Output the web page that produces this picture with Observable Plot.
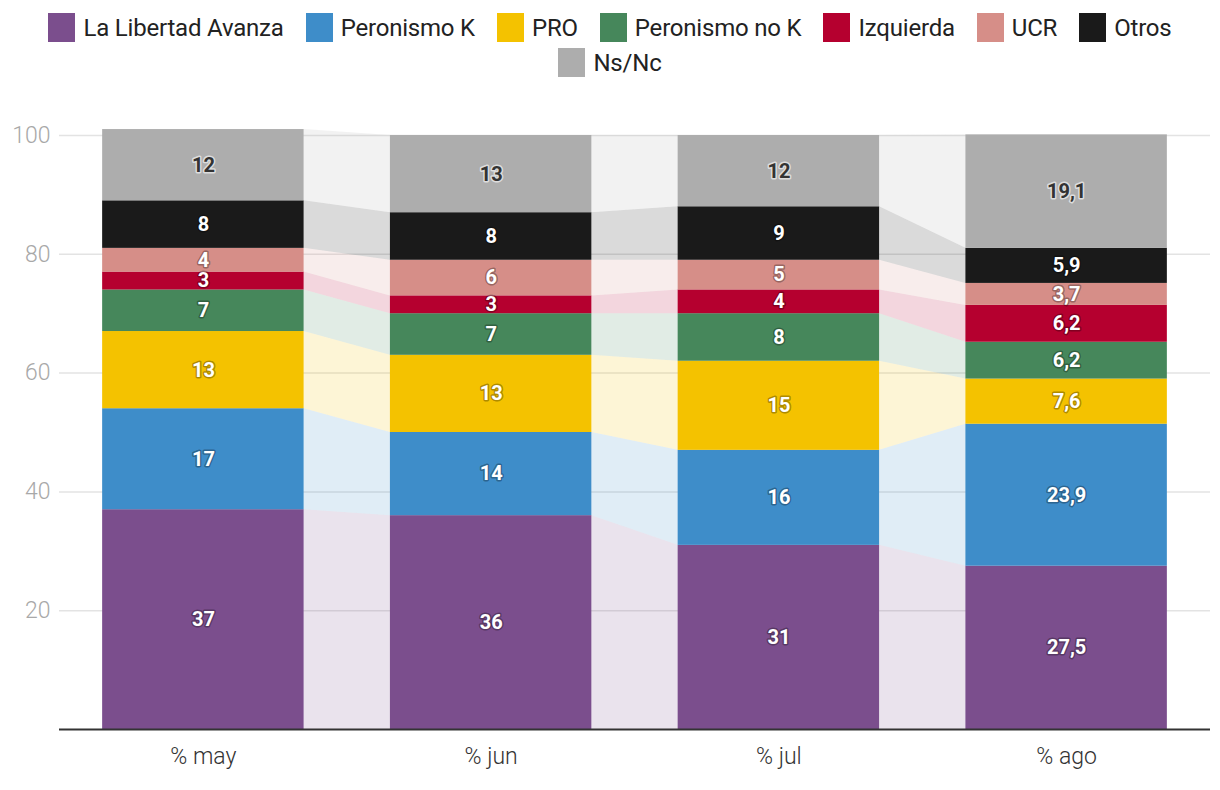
<!DOCTYPE html>
<html><head><meta charset="utf-8">
<script src="https://cdn.jsdelivr.net/npm/d3@7"></script>
<script src="https://cdn.jsdelivr.net/npm/@observablehq/plot@0.6"></script>
<style>
body{margin:0;background:#fff;font-family:Roboto,"Noto Sans",sans-serif;}
#legend{display:flex;flex-wrap:wrap;justify-content:center;column-gap:22px;row-gap:6px;width:1200px;margin:0 auto;padding-top:13px;height:77px;align-content:flex-start}
.item{display:flex;align-items:center;font-size:24px;color:#222;height:29px;letter-spacing:-0.2px;font-weight:400}
.sw{width:27px;height:29px;margin-right:8px}
#chart svg{display:block}
</style></head><body>
<div id="legend"></div><div id="chart"></div>
<script>
const months = ["% may", "% jun", "% jul", "% ago"];
const parties = ["La Libertad Avanza", "Peronismo K", "PRO", "Peronismo no K", "Izquierda", "UCR", "Otros", "Ns/Nc"];
const colors = ["#7b4e8d", "#3e8dc9", "#f4c200", "#46875b", "#b5002f", "#d68e88", "#1a1a1a", "#adadad"];
const libertad = [37, 36, 31, 27.5];
const peronismoK = [17, 14, 16, 23.9];
const pro = [13, 13, 15, 7.6];
const peronismoNoK = [7, 7, 8, 6.2];
const izquierda = [3, 3, 4, 6.2];
const ucr = [4, 6, 5, 3.7];
const otros = [8, 8, 9, 5.9];
const nsnc = [12, 13, 12, 19.1];
const yTicks = [20, 40, 60, 80, 100];

const series = [libertad, peronismoK, pro, peronismoNoK, izquierda, ucr, otros, nsnc];

// legend
const leg = document.getElementById("legend");
parties.forEach((p, k) => {
  const it = document.createElement("div"); it.className = "item";
  const sw = document.createElement("span"); sw.className = "sw"; sw.style.background = colors[k];
  const t = document.createElement("span"); t.textContent = p;
  it.appendChild(sw); it.appendChild(t); leg.appendChild(it);
});

// stacked rows
const rows = [];
months.forEach((m, i) => {
  let acc = 0;
  parties.forEach((p, k) => {
    const v = series[k][i];
    rows.push({month: m, i, party: p, value: v, y1: acc, y2: acc + v});
    acc += v;
  });
});
const half = 0.35;
const bandRows = [];
parties.forEach(p => {
  rows.filter(r => r.party === p).forEach(r => {
    bandRows.push({...r, x: r.i - half});
    bandRows.push({...r, x: r.i + half});
  });
});

const fmt = v => String(v).replace(".", ",");

const chart = Plot.plot({
  width: 1220,
  height: 700,
  marginTop: 45,
  marginBottom: 61,
  marginLeft: 59,
  marginRight: 10,
  x: {domain: [-0.5, months.length - 0.5], axis: null},
  y: {domain: [0, 100], axis: null},
  color: {domain: parties, range: colors},
  style: {fontFamily: "Roboto, sans-serif", background: "#fff", overflow: "visible"},
  marks: [
    Plot.gridY(yTicks, {stroke: "#e3e3e3", strokeOpacity: 1, strokeWidth: 1.5}),
    Plot.text(yTicks, {y: d => d, frameAnchor: "left", dx: -9, textAnchor: "end", fontSize: 23, fontWeight: 300, fill: "#a8a8a8"}),
    Plot.area(bandRows, {x1: "x", y1: "y1", y2: "y2", z: "party", fill: "party", fillOpacity: 0.16, curve: "linear"}),
    Plot.rect(rows, {x1: d => d.i - half, x2: d => d.i + half, y1: "y1", y2: "y2", fill: "party"}),
    Plot.ruleY([0], {stroke: "#333", strokeWidth: 2}),
    Plot.text(rows, {
      x: "i", y: d => (d.y1 + d.y2) / 2, text: d => fmt(d.value),
      fill: d => d.party === "Ns/Nc" ? "#333" : "#fff",
      stroke: d => d.party === "Ns/Nc" ? "#fff" : "#000",
      strokeOpacity: d => d.party === "Ns/Nc" ? 0.6 : 0.3,
      strokeWidth: 3, fontSize: 20, fontWeight: 700, textAnchor: "middle", lineAnchor: "middle"
    }),
    Plot.text(months, {x: (d, i) => i, frameAnchor: "bottom", dy: 27, lineAnchor: "middle", text: d => d, fontSize: 23, fontWeight: 300, fill: "#333"})
  ]
});
document.getElementById("chart").appendChild(chart);
</script>
</body></html>
